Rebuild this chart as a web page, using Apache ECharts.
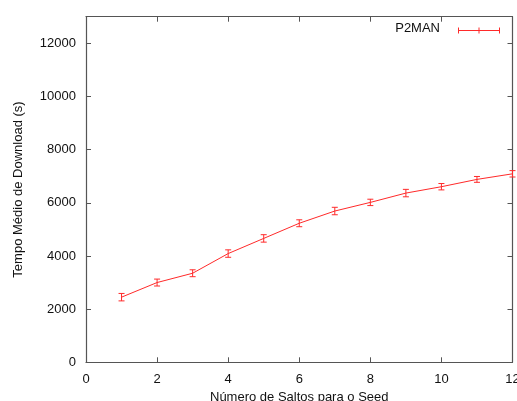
<!DOCTYPE html>
<html>
<head>
<meta charset="utf-8">
<script src="https://cdn.jsdelivr.net/npm/echarts@6/dist/echarts.min.js"></script>
<style>
  html, body { margin: 0; padding: 0; background: #fff; }
  #chart { width: 517px; height: 401px; }
</style>
</head>
<body>
<div id="chart"></div>
<script>
// Number of hops to the seed
const hops = [1, 2, 3, 4, 5, 6, 7, 8, 9, 10, 11, 12];
// Mean download time (s)
const meanTime = [2450, 3000, 3350, 4090, 4660, 5230, 5690, 6015, 6365, 6605, 6880, 7090];
// Half-width of the error bars (s)
const errHalf = [140, 130, 130, 140, 140, 130, 140, 120, 140, 120, 110, 120];

const xTicks = { min: 0, max: 12, interval: 2 };
const yTicks = { min: 0, max: 13000, interval: 2000 };

const RED = '#ff2a2a';
const AXIS = '#555';
const FONT = 'Liberation Sans, Arial, sans-serif';

const lineData = hops.map((h, i) => [h, meanTime[i]]);
const errData = hops.map((h, i) => [h, meanTime[i] - errHalf[i], meanTime[i] + errHalf[i]]);

function renderErr(params, api) {
  const x = api.value(0);
  const lo = api.coord([x, api.value(1)]);
  const hi = api.coord([x, api.value(2)]);
  const cap = 3;
  const style = { stroke: RED, lineWidth: 1 };
  return {
    type: 'group',
    children: [
      { type: 'line', shape: { x1: lo[0], y1: lo[1], x2: hi[0], y2: hi[1] }, style },
      { type: 'line', shape: { x1: lo[0] - cap, y1: lo[1], x2: lo[0] + cap, y2: lo[1] }, style },
      { type: 'line', shape: { x1: hi[0] - cap, y1: hi[1], x2: hi[0] + cap, y2: hi[1] }, style }
    ]
  };
}

const tickStyle = { show: true, inside: true, length: 5, lineStyle: { color: AXIS, width: 1 } };
const lineAxis = { show: true, onZero: false, lineStyle: { color: AXIS, width: 1.2 } };
const labelStyle = { color: '#111', fontFamily: FONT, fontSize: 13, formatter: v => String(v) };

const chart = echarts.init(document.getElementById('chart'), null, { renderer: 'canvas' });
chart.setOption({
  animation: false,
  backgroundColor: '#fff',
  grid: { left: 86, right: 4.5, top: 16.7, bottom: 38.7, containLabel: false, outerBoundsMode: 'none' },
  xAxis: [
    {
      type: 'value', position: 'bottom',
      min: xTicks.min, max: xTicks.max, interval: xTicks.interval,
      axisLine: lineAxis, axisTick: tickStyle, splitLine: { show: false },
      axisLabel: Object.assign({ margin: 11 }, labelStyle),
      name: 'Número de Saltos para o Seed', nameLocation: 'middle', nameGap: 28,
      nameTextStyle: { color: '#111', fontFamily: FONT, fontSize: 13 }
    },
    {
      type: 'value', position: 'top',
      min: xTicks.min, max: xTicks.max, interval: xTicks.interval,
      axisLine: lineAxis, axisTick: tickStyle, axisLabel: { show: false }, splitLine: { show: false }
    }
  ],
  yAxis: [
    {
      type: 'value', position: 'left',
      min: yTicks.min, max: yTicks.max, interval: yTicks.interval,
      axisLine: lineAxis, axisTick: tickStyle, splitLine: { show: false },
      axisLabel: Object.assign({ margin: 10, showMaxLabel: false }, labelStyle),
      name: 'Tempo Médio de Download (s)', nameLocation: 'middle', nameGap: 61,
      nameTextStyle: { color: '#111', fontFamily: FONT, fontSize: 13 }
    },
    {
      type: 'value', position: 'right',
      min: yTicks.min, max: yTicks.max, interval: yTicks.interval,
      axisLine: lineAxis, axisTick: tickStyle, axisLabel: { show: false }, splitLine: { show: false }
    }
  ],
  series: [
    {
      name: 'P2MAN', type: 'line', xAxisIndex: 0, yAxisIndex: 0,
      data: lineData, symbol: 'none',
      lineStyle: { color: RED, width: 1 }
    },
    {
      name: 'P2MAN-err', type: 'custom', xAxisIndex: 0, yAxisIndex: 0,
      data: errData, renderItem: renderErr, encode: { x: 0, y: [1, 2] }
    }
  ],
  graphic: [
    {
      type: 'text', right: 517 - 440, top: 22,
      style: { text: 'P2MAN', fill: '#111', font: '13px ' + FONT, textAlign: 'right' }
    },
    {
      type: 'group', left: 456, top: 25,
      children: [
        { type: 'line', shape: { x1: 0, y1: 3, x2: 41, y2: 3 }, style: { stroke: RED, lineWidth: 1 } },
        { type: 'line', shape: { x1: 0, y1: 0, x2: 0, y2: 6 }, style: { stroke: RED, lineWidth: 1 } },
        { type: 'line', shape: { x1: 20.5, y1: 0, x2: 20.5, y2: 6 }, style: { stroke: RED, lineWidth: 1 } },
        { type: 'line', shape: { x1: 41, y1: 0, x2: 41, y2: 6 }, style: { stroke: RED, lineWidth: 1 } }
      ]
    }
  ]
});
</script>
</body>
</html>
